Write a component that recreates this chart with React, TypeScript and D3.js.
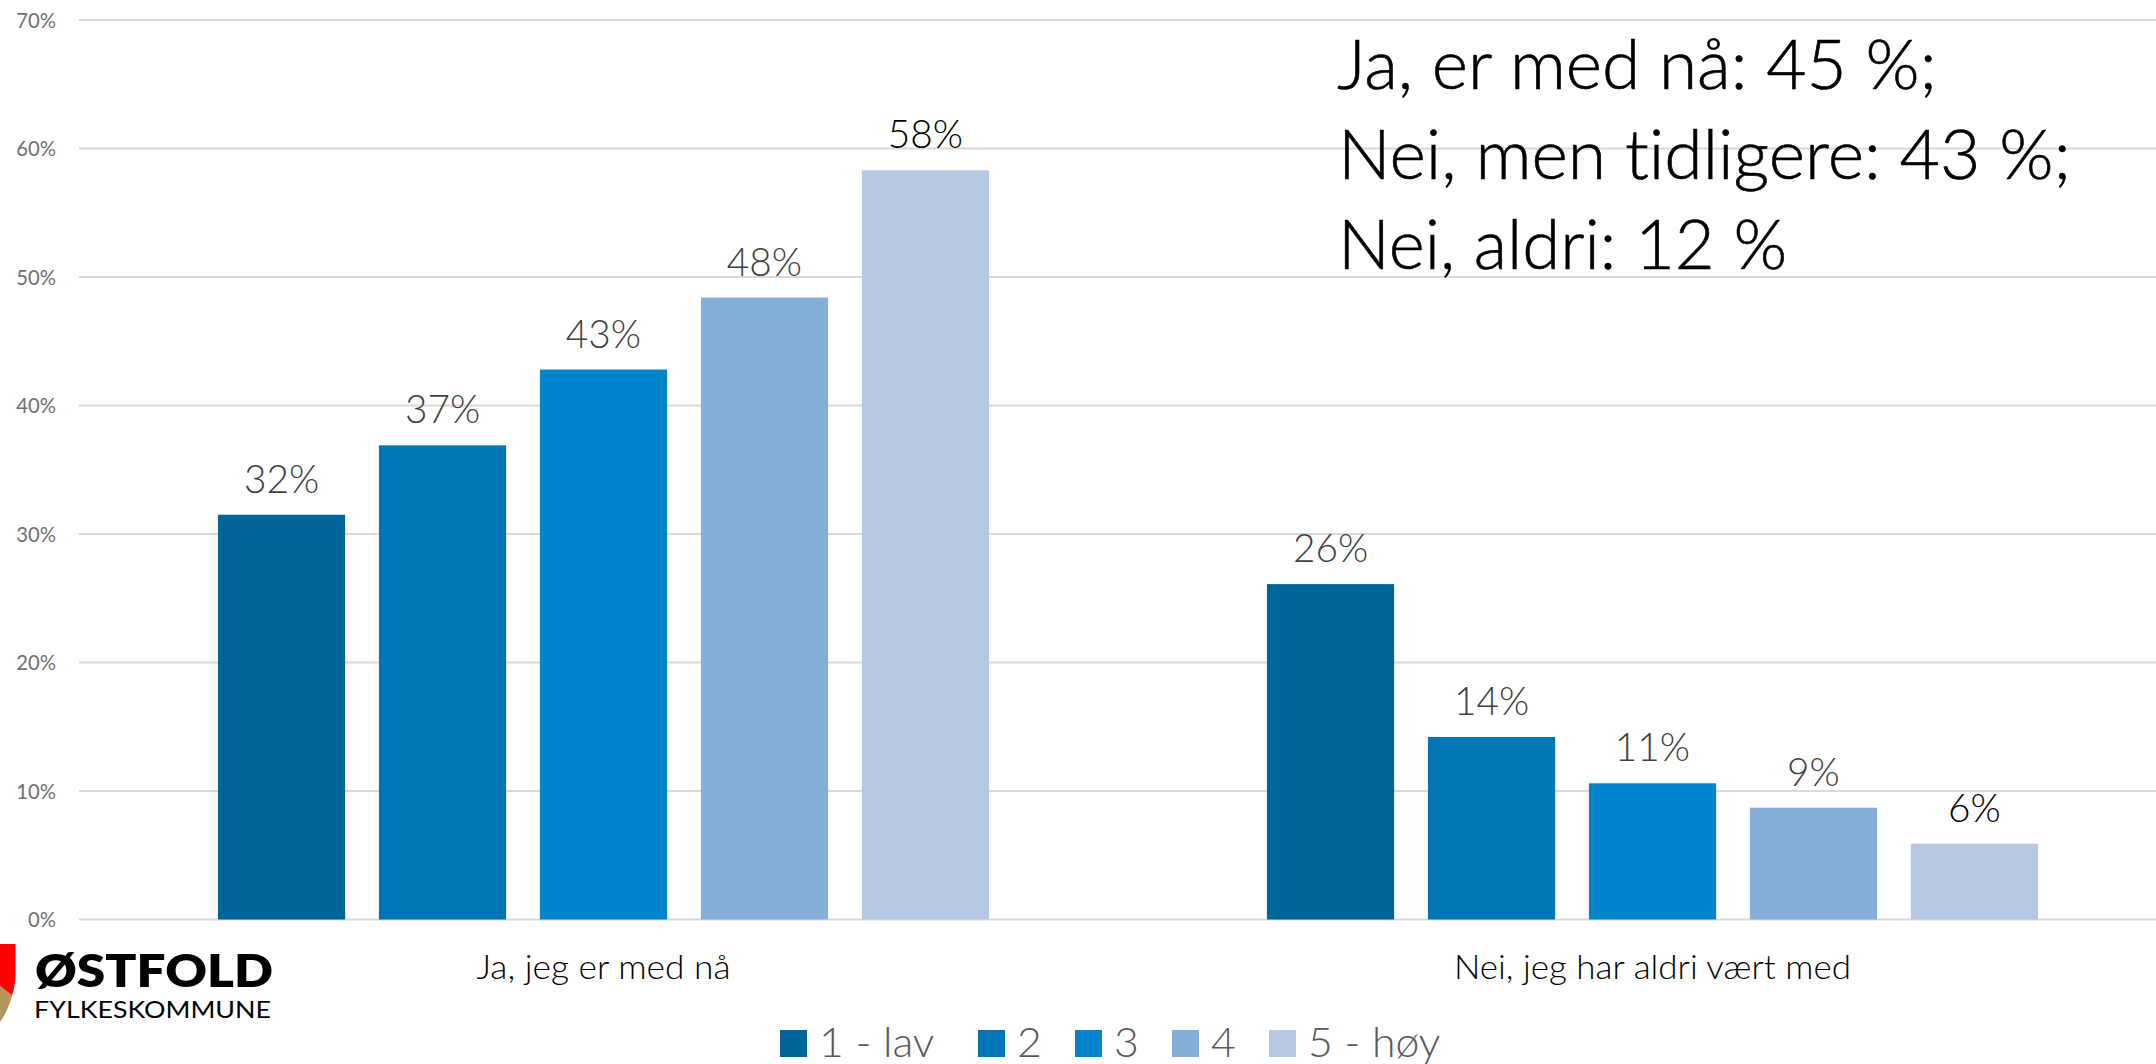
import React, { useEffect, useRef } from 'react';
import * as d3 from 'd3';

const categories = ['Ja, jeg er med nå', 'Nei, jeg har aldri vært med'];
const seriesNames = ['1 - lav', '2', '3', '4', '5 - høy'];
const seriesColors = ['#006699', '#0075b5', '#0085cc', '#85aed9', '#b5c9e5'];
const jaValues = [31.5, 36.9, 42.8, 48.4, 58.3];
const neiValues = [26.1, 14.2, 10.6, 8.7, 5.9];
const jaLabels = ['32%', '37%', '43%', '48%', '58%'];
const neiLabels = ['26%', '14%', '11%', '9%', '6%'];
const yTicks = [0, 10, 20, 30, 40, 50, 60, 70];
const noteLines = ['Ja, er med nå: 45 %;', 'Nei, men tidligere: 43 %;', 'Nei, aldri: 12 %'];

const font = 'Lato, "Open Sans", sans-serif';

// The reference font is narrower/taller than Lato, so widen or squeeze each text to its measured width
function stretch(node: SVGTextElement, width: number) {
  node.setAttribute('textLength', String(width));
  node.setAttribute('lengthAdjust', 'spacingAndGlyphs');
}
function stretchBy(sel: any, k: number) {
  sel.each(function (this: SVGTextElement) {
    stretch(this, this.getComputedTextLength() * k);
  });
}

export default function App() {
  const chart = useRef<SVGSVGElement>(null);

  useEffect(() => {
    const svg = d3.select(chart.current);
    svg.selectAll('*').remove();

    const y = d3.scaleLinear().domain([0, 70]).range([919.5, 20]);
    const x0 = d3.scaleBand().domain(categories).range([79, 2177]);
    const x1 = d3.scaleBand().domain(seriesNames).range([0, x0.bandwidth()]).paddingInner(0.21).paddingOuter(0.863);

    // grid
    svg.append('g')
      .selectAll('line')
      .data(yTicks)
      .join('line')
      .attr('x1', 79)
      .attr('x2', 2156)
      .attr('y1', d => y(d))
      .attr('y2', d => y(d))
      .attr('stroke', '#d9d9d9')
      .attr('stroke-width', 2);

    const ticks = svg.append('g')
      .selectAll('text')
      .data(yTicks)
      .join('text')
      .attr('x', 56)
      .attr('y', d => y(d) + 7.5)
      .attr('text-anchor', 'end')
      .attr('font-size', 22)
      .attr('font-weight', 400)
      .attr('fill', '#707070')
      .text(d => `${d}%`);
    stretchBy(ticks, 0.92);

    // bars + labels
    const groups = [
      { cat: categories[0], values: jaValues, labels: jaLabels, width: 254 },
      { cat: categories[1], values: neiValues, labels: neiLabels, width: 397 },
    ];
    groups.forEach(g => {
      const gr = svg.append('g').attr('transform', `translate(${x0(g.cat)},0)`);
      gr.selectAll('rect')
        .data(g.values)
        .join('rect')
        .attr('x', (d, i) => x1(seriesNames[i]) as number)
        .attr('y', d => y(d))
        .attr('width', x1.bandwidth())
        .attr('height', d => y(0) - y(d))
        .attr('fill', (d, i) => seriesColors[i]);
      const labels = gr.selectAll('text')
        .data(g.values)
        .join('text')
        .attr('x', (d, i) => (x1(seriesNames[i]) as number) + x1.bandwidth() / 2)
        .attr('y', d => y(d) - 22)
        .attr('text-anchor', 'middle')
        .attr('font-size', 40)
        .attr('font-weight', 300)
        .attr('fill', (d, i) => (i === 4 ? '#000' : '#404040'))
        .text((d, i) => g.labels[i]);
      stretchBy(labels, 0.97);
      const cat = svg.append('text')
        .attr('x', (x0(g.cat) as number) + x0.bandwidth() / 2)
        .attr('y', 979)
        .attr('text-anchor', 'middle')
        .attr('font-size', 34)
        .attr('font-weight', 300)
        .attr('fill', '#000')
        .text(g.cat);
      stretch(cat.node() as SVGTextElement, g.width);
    });

    // legend
    const legendX = [780, 978, 1075, 1172, 1269];
    const legend = svg.append('g');
    seriesNames.forEach((s, i) => {
      legend.append('rect')
        .attr('x', legendX[i])
        .attr('y', 1030)
        .attr('width', 27)
        .attr('height', 27)
        .attr('fill', seriesColors[i]);
      const t = legend.append('text')
        .attr('x', legendX[i] + 39)
        .attr('y', 1057)
        .attr('font-size', 42)
        .attr('font-weight', 300)
        .attr('fill', '#595959')
        .text(s);
      stretchBy(t, 1.02);
    });

    // note
    const noteWidths = [600, 733, 449];
    svg.append('g')
      .selectAll('text')
      .data(noteLines)
      .join('text')
      .attr('x', (d, i) => (i === 0 ? 1337 : 1338))
      .attr('y', (d, i) => 89 + i * 89.8)
      .attr('font-size', 68)
      .attr('font-weight', 300)
      .attr('fill', '#000')
      .attr('stroke', '#000')
      .attr('stroke-width', 0.6)
      .text(d => d)
      .each(function (d, i) {
        stretch(this as SVGTextElement, noteWidths[i]);
      });

    // logo
    svg.append('path').attr('d', 'M0 944H15.5V975Q15 987 12 995.5L0 986Z').attr('fill', '#ff0000');
    svg.append('path').attr('d', 'M0 986L12 995.5Q8 1011 0 1022Z').attr('fill', '#b3965a');
    const logo1 = svg.append('text')
      .attr('x', 35)
      .attr('y', 987)
      .attr('font-size', 46)
      .attr('font-weight', 800)
      .attr('fill', '#000')
      .text('ØSTFOLD');
    stretch(logo1.node() as SVGTextElement, 238);
    const logo2 = svg.append('text')
      .attr('x', 34)
      .attr('y', 1018)
      .attr('font-size', 24)
      .attr('fill', '#000')
      .text('FYLKESKOMMUNE');
    stretch(logo2.node() as SVGTextElement, 237);
  }, []);

  return (
    <svg
      ref={chart}
      width={2156}
      height={1064}
      style={{ position: 'absolute', left: 0, top: 0, background: '#fff', fontFamily: font, fontVariantLigatures: 'none' }}
    />
  );
}
